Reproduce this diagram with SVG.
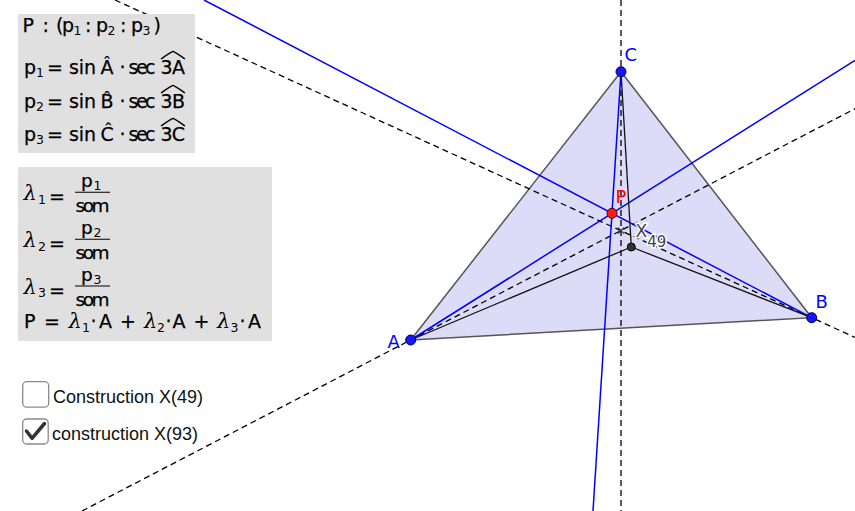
<svg xmlns="http://www.w3.org/2000/svg" width="855" height="511" viewBox="0 0 855 511">
<style>
.dash{stroke:#000;stroke-width:1.3;stroke-dasharray:6 4;fill:none}
.blue{stroke:#0000ff;stroke-width:1.5;fill:none}
.seg{stroke:#111;stroke-width:1.3;fill:none}
.edge{stroke:#555;stroke-width:1.5;fill:none}
.vert{fill:#1515ff;stroke:#00004d;stroke-width:1}
.lbl{font-family:"DejaVu Sans",sans-serif;font-size:18px;fill:#0000ff}
.m{font-family:"DejaVu Sans",sans-serif;font-size:19px;fill:#000;stroke:#000;stroke-width:0.25}
.s{font-family:"DejaVu Sans",sans-serif;font-size:12.5px;fill:#000}
.f{font-family:"DejaVu Sans",sans-serif;font-size:18.5px;fill:#000;stroke:#000;stroke-width:0.25}
.g{font-family:"DejaVu Serif",serif;font-style:italic;font-size:21px;fill:#000}
.hat{stroke:#000;stroke-width:1.3;fill:none}
.box{fill:#e0e0e0}
.cb{fill:#fff;stroke:#8a8a8a;stroke-width:1.3}
.cbt{font-family:"Liberation Sans",Arial,sans-serif;font-size:18px;fill:#111}
</style>
<rect width="855" height="511" fill="#fff"/>
<g id="triangle">
<polygon points="410.7,340 811.7,317.7 621,71.7" fill="#dcdcf9" stroke="none"/>
<polyline class="edge" points="410.7,340 811.7,317.7 621,71.7 410.7,340"/>
</g>
<g id="connectors">
<line class="dash" x1="621" y1="0" x2="621" y2="511"/>
<line class="dash" x1="82" y1="511" x2="855" y2="108.7"/>
<line class="dash" x1="115" y1="0" x2="855" y2="337.4"/>
<line class="blue" x1="410.7" y1="340" x2="855" y2="60.4"/>
<line class="blue" x1="811.7" y1="317.7" x2="204" y2="0"/>
<line class="blue" x1="621" y1="71.7" x2="593" y2="511"/>
<line class="seg" x1="631.3" y1="247" x2="410.7" y2="340"/>
<line class="seg" x1="631.3" y1="247" x2="811.7" y2="317.7"/>
<line class="seg" x1="631.3" y1="247" x2="621" y2="71.7"/>
</g>
<g id="Q">
<path d="M618 227.7 L624 233.7 M624 227.7 L618 233.7" stroke="#333" stroke-width="1.2"/>
</g>
<g id="X49">
<circle cx="631.3" cy="247" r="4" fill="#333" stroke="#000" stroke-width="1"/>
<text x="635.5" y="237" font-family="DejaVu Sans,sans-serif" font-size="17" fill="#444" stroke="#fff" stroke-width="3" paint-order="stroke">X<tspan font-size="15" dy="9.5">49</tspan></text>
</g>
<g id="P">
<circle cx="612" cy="213.3" r="5" fill="#ff1a1a" stroke="#4d0000" stroke-width="1"/>
<text x="615.5" y="203" font-family="DejaVu Sans,sans-serif" font-size="18" fill="#ff0000">P</text>
</g>
<g id="A">
<circle class="vert" cx="410.7" cy="340" r="5"/>
<text class="lbl" x="387.5" y="348">A</text>
</g>
<g id="B">
<circle class="vert" cx="811.7" cy="317.7" r="5"/>
<text class="lbl" x="815.5" y="307.5">B</text>
</g>
<g id="C">
<circle class="vert" cx="621" cy="71.7" r="5"/>
<text class="lbl" x="624.5" y="61">C</text>
</g>
<g id="formula-box-1">
<rect class="box" x="18" y="14" width="177" height="139"/>
<text class="m" x="22.5" y="32">P</text>
<text class="m" x="42.5" y="32">:</text>
<text class="m" x="56" y="32">(</text>
<text class="m" x="62" y="32">p</text><text class="s" x="73.5" y="35">1</text>
<text class="m" x="85" y="32">:</text>
<text class="m" x="96" y="32">p</text><text class="s" x="107.5" y="35">2</text>
<text class="m" x="120" y="32">:</text>
<text class="m" x="131" y="32">p</text><text class="s" x="142.5" y="35">3</text>
<text class="m" x="153.5" y="32">)</text>

<text class="m" x="24" y="74">p</text><text class="s" x="36" y="77">1</text>
<text class="m" x="47" y="74">=</text>
<text class="m" x="69" y="74" textLength="27">sin</text>
<text class="m" x="100.5" y="74">Â</text>
<text class="m" x="119.5" y="74">·</text>
<text class="m" x="128.5" y="74" textLength="27">sec</text>
<text class="m" x="160.5" y="74" textLength="24.5">3A</text>
<path class="hat" d="M161 59 C166 55.5,170 52.5,173 51.3 C176 52.5,180 55.5,185 59"/>

<text class="m" x="24" y="108">p</text><text class="s" x="36" y="111">2</text>
<text class="m" x="47" y="108">=</text>
<text class="m" x="69" y="108" textLength="27">sin</text>
<text class="m" x="100.5" y="108">B̂</text>
<text class="m" x="119.5" y="108">·</text>
<text class="m" x="128.5" y="108" textLength="27">sec</text>
<text class="m" x="160.5" y="108" textLength="24.5">3B</text>
<path class="hat" d="M161 93 C166 89.5,170 86.5,173 85.3 C176 86.5,180 89.5,185 93"/>

<text class="m" x="24" y="141">p</text><text class="s" x="36" y="144">3</text>
<text class="m" x="47" y="141">=</text>
<text class="m" x="69" y="141" textLength="27">sin</text>
<text class="m" x="100.5" y="141">Ĉ</text>
<text class="m" x="119.5" y="141">·</text>
<text class="m" x="128.5" y="141" textLength="27">sec</text>
<text class="m" x="160.5" y="141" textLength="24.5">3C</text>
<path class="hat" d="M161 126 C166 122.5,170 119.5,173 118.3 C176 119.5,180 122.5,185 126"/>
</g>
<g id="formula-box-2">
<rect class="box" x="18" y="167" width="254" height="174"/>
<text class="g" x="23.5" y="200">λ</text><text class="s" x="38" y="203.5">1</text>
<text class="m" x="49" y="203">=</text>
<text class="f" x="81" y="187">p</text><text class="s" x="93.5" y="190">1</text>
<line x1="75" y1="192.3" x2="110" y2="192.3" stroke="#000" stroke-width="1.1"/>
<text class="f" x="75.5" y="212.3" textLength="34">som</text>

<text class="g" x="23.5" y="247">λ</text><text class="s" x="38" y="250.5">2</text>
<text class="m" x="49" y="250">=</text>
<text class="f" x="81" y="234">p</text><text class="s" x="93.5" y="237">2</text>
<line x1="75" y1="239.3" x2="110" y2="239.3" stroke="#000" stroke-width="1.1"/>
<text class="f" x="75.5" y="259" textLength="34">som</text>

<text class="g" x="23.5" y="293.5">λ</text><text class="s" x="38" y="297">3</text>
<text class="m" x="49" y="296.5">=</text>
<text class="f" x="81" y="281">p</text><text class="s" x="93.5" y="284">3</text>
<line x1="75" y1="286" x2="110" y2="286" stroke="#000" stroke-width="1.1"/>
<text class="f" x="75.5" y="305.7" textLength="34">som</text>

<text class="m" x="24" y="328">P</text>
<text class="m" x="44" y="328">=</text>
<text class="g" x="68.5" y="328">λ</text><text class="s" x="82" y="331.5">1</text>
<text class="m" x="90.5" y="328">·</text>
<text class="m" x="99" y="328">A</text>
<text class="m" x="120" y="328">+</text>
<text class="g" x="144" y="328">λ</text><text class="s" x="157" y="331.5">2</text>
<text class="m" x="165.5" y="328">·</text>
<text class="m" x="172.5" y="328">A</text>
<text class="m" x="193.5" y="328">+</text>
<text class="g" x="217" y="328">λ</text><text class="s" x="230.5" y="331.5">3</text>
<text class="m" x="239.5" y="328">·</text>
<text class="m" x="248" y="328">A</text>
</g>
<g id="checkbox-1">
<rect class="cb" x="22.7" y="381.7" width="26" height="25.5" rx="4"/>
<text class="cbt" x="53" y="402.5">Construction X(49)</text>
</g>
<g id="checkbox-2">
<rect class="cb" x="22.7" y="419" width="25.5" height="25" rx="4"/>
<path d="M26.5 431 L32 438.3 L44.5 423.5" stroke="#333" stroke-width="3.5" fill="none" stroke-linecap="round" stroke-linejoin="round"/>
<text class="cbt" x="52" y="440">construction X(93)</text>
</g>
</svg>
